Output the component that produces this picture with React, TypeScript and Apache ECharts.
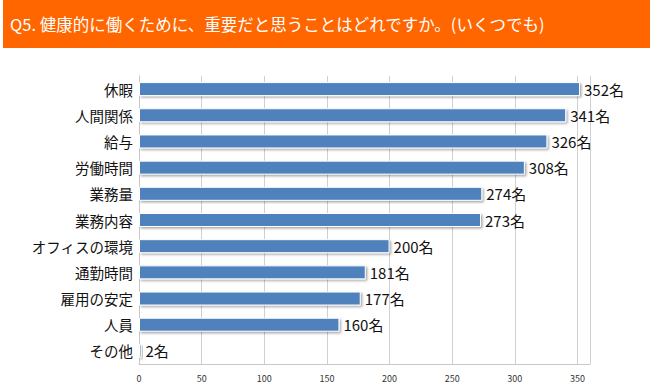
import React, { useEffect, useRef } from "react";
import * as echarts from "echarts";

const title = "Q5. 健康的に働くために、重要だと思うことはどれですか。(いくつでも)";
const categories = ["休暇", "人間関係", "給与", "労働時間", "業務量", "業務内容", "オフィスの環境", "通勤時間", "雇用の安定", "人員", "その他"];
const values = [352, 341, 326, 308, 274, 273, 200, 181, 177, 160, 2];
const unit = "名";

export default function App() {
  const ref = useRef<HTMLDivElement>(null);
  useEffect(() => {
    const chart = echarts.init(ref.current!, null, { renderer: "svg" });
    const font = "'Noto Sans CJK JP', 'Noto Sans', sans-serif";
    chart.setOption({
      animation: false,
      backgroundColor: "#ffffff",
      graphic: [
        { type: "rect", shape: { x: 3, y: 0, width: 647, height: 48 }, style: { fill: "#FF6600" } },
        { type: "text", x: 10, y: 24, style: { text: title, fill: "#ffffff", font: `16.5px ${font}`, verticalAlign: "middle" } },
      ],
      grid: { left: 139, top: 76, width: 451, height: 288, containLabel: false },
      xAxis: {
        type: "value",
        min: 0,
        max: 360,
        interval: 50,
        axisLine: { show: true, lineStyle: { color: "#c8c8c8" } },
        axisTick: { show: false },
        splitLine: { show: true, lineStyle: { color: "#d0d0d0" } },
        axisLabel: { color: "#333", fontSize: 9, fontFamily: font, showMaxLabel: false, margin: 10 },
      },
      yAxis: {
        type: "category",
        data: categories,
        inverse: true,
        axisLine: { show: true, lineStyle: { color: "#c8c8c8" } },
        axisTick: { show: false },
        axisLabel: { color: "#111", fontSize: 14.5, fontFamily: font, margin: 6 },
      },
      series: [
        {
          type: "bar",
          data: values,
          barWidth: 14,
          itemStyle: {
            color: "#4F81BD",
            borderColor: "#ffffff",
            borderWidth: 1,
            shadowColor: "rgba(0,0,0,0.35)",
            shadowBlur: 2,
            shadowOffsetX: 1.5,
            shadowOffsetY: 1.5,
          },
          label: {
            show: true,
            position: "right",
            distance: 4,
            formatter: (p: any) => `${p.value}${unit}`,
            color: "#111",
            fontSize: 15,
            fontFamily: font,
          },
        },
      ],
    });
    return () => chart.dispose();
  }, []);
  return <div ref={ref} style={{ width: 650, height: 391, position: "absolute", left: 0, top: 0 }} />;
}
